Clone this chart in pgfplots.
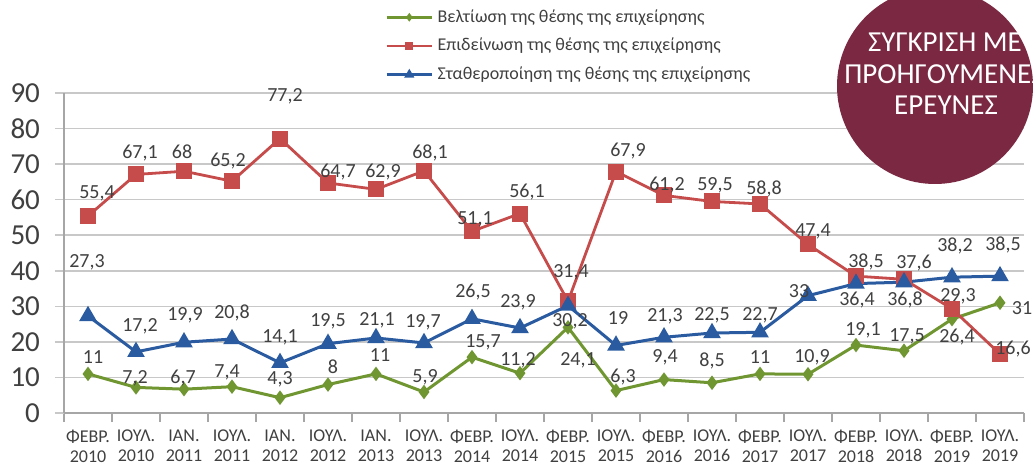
\documentclass[border=0pt]{standalone}
\usepackage{pgfplots}
\pgfplotsset{compat=1.18}
\usepackage{pgfplotstable}
\usepackage{fontspec}
\setmainfont{Carlito}
\definecolor{cgreen}{HTML}{709632}
\definecolor{cred}{HTML}{C64B4B}
\definecolor{cblue}{HTML}{2A5AA0}
\definecolor{maroon}{HTML}{7B2942}
\definecolor{txt}{HTML}{404040}
\definecolor{gridc}{HTML}{C8C8C8}

% x y dx dy  (label offsets in pt)
\pgfplotstableread{
x y dx dy
0 11 2.5 8.5
1 7.2 -0.5 4.5
2 6.7 -0.5 5.5
3 7.4 -2.5 7
4 4.3 0 9
5 8 2.5 9
6 11 2 9.5
7 5.9 0.5 7.5
8 15.7 5.5 7.5
9 11.2 -1 6.5
10 24.1 5 -16.5
11 6.3 3.5 7
12 9.4 0.5 11
13 8.5 0 11
14 11 0 8.5
15 10.9 2 8.5
16 19.1 3.5 7.5
17 17.5 1.5 7
18 26.4 2.5 -9
19 31 11 -2.5
}\tblgreen

\pgfplotstableread{
x y dx dy
0 55.4 4.5 11.5
1 67.1 2 10.5
2 68 -1 9.5
3 65.2 -2 10
4 77.2 2.5 21
5 64.7 5 5.5
6 62.9 3.5 8.5
7 68.1 3 9
8 51.1 1.5 6
9 56.1 3.5 11
10 31.4 1.5 14.5
11 67.9 6 10.5
12 61.2 1.5 5
13 59.5 1.5 8
14 58.8 2 7.5
15 47.4 2.5 6.5
16 38.5 5 7
17 37.6 5 8
18 29.3 3 6.5
19 16.6 6.5 2.5
}\tblred

\pgfplotstableread{
x y dx dy
0 27.3 -0.5 27
1 17.2 2 13
2 19.9 0.5 13.5
3 20.8 0 13
4 14.1 0 13
5 19.5 0 11
6 21.1 0.5 9
7 19.7 -0.5 10.5
8 26.5 0.5 13.5
9 23.9 -1 13
10 30.2 1 -8
11 19 1 13.5
12 21.3 0.5 10.5
13 22.5 0 9
14 22.7 0 8.5
15 33 -4.5 2.5
16 36.4 0.5 -8
17 36.8 0.5 -9
18 38.2 1.5 15.5
19 38.5 1.5 15.5
}\tblblue

\pgfplotsset{lbl/.style={
    visualization depends on={\thisrow{dx}\as\dx},
    visualization depends on={\thisrow{dy}\as\dy},
    nodes near coords,
    nodes near coords align=center,
    every node near coord/.append style={font=\fontsize{10}{10}\selectfont, text=txt, inner sep=0pt, xshift=\dx pt, yshift=\dy pt},
}}

\begin{document}
\begin{tikzpicture}
\begin{axis}[
  scale only axis,
  width=480pt, height=160pt,
  at={(32pt,26.5pt)}, anchor=south west,
  xmin=-0.5, xmax=19.5,
  ymin=0, ymax=90,
  ytick={0,10,...,90},
  xtick={0,...,19},
  xticklabels={{ΦΕΒΡ.\\2010},{ΙΟΥΛ.\\2010},{ΙΑΝ.\\2011},{ΙΟΥΛ.\\2011},{ΙΑΝ.\\2012},{ΙΟΥΛ.\\2012},{ΙΑΝ.\\2013},{ΙΟΥΛ.\\2013},{ΦΕΒΡ.\\2014},{ΙΟΥΛ.\\2014},{ΦΕΒΡ.\\2015},{ΙΟΥΛ.\\2015},{ΦΕΒΡ.\\2016},{ΙΟΥΛ.\\2016},{ΦΕΒΡ.\\2017},{ΙΟΥΛ.\\2017},{ΦΕΒΡ.\\2018},{ΙΟΥΛ.\\2018},{ΦΕΒΡ.\\2019},{ΙΟΥΛ.\\2019}},
  minor xtick={-0.5,0.5,...,19.5},
  axis lines=left,
  axis line style={draw=gray!70, line width=0.6pt, -},
  tick align=outside,
  major tick length=4.5pt,
  minor tick length=4.5pt,
  major x tick style={draw=none},
  minor x tick style={draw=gray!70, line width=0.6pt},
  major y tick style={draw=gridc, line width=0.8pt},
  ymajorgrids,
  major grid style={draw=gridc, line width=0.8pt},
  yticklabel style={font=\fontsize{14.5}{14.5}\selectfont, text=txt, xshift=-4pt},
  xticklabel style={font=\fontsize{9}{10}\selectfont, text=txt, align=center, yshift=-0.5pt},
  /pgf/number format/.cd, use comma, assume math mode=true,
  /pgfplots/.cd,
  clip=false,
  legend style={at={(0.334,1.275)}, anchor=north west, draw=none, fill=none,
    font=\fontsize{9}{10}\selectfont, text=txt, row sep=2.5pt, inner sep=0pt,
    cells={anchor=west}},
  legend cell align=left,
  legend image code/.code={
    \draw[mark repeat=2,mark phase=2, every mark/.append style={scale=0.4}] plot coordinates {(0cm,0cm) (0.4cm,0cm) (0.8cm,0cm)};
  },
]
\addplot[cgreen, line width=1.5pt, mark=diamond*, mark size=2.4pt, mark options={fill=cgreen, draw=cgreen}, lbl] table[x=x,y=y] \tblgreen;
\addlegendentry{Βελτίωση της θέσης της επιχείρησης}
\addplot[cred, line width=1.4pt, mark=square*, mark size=3.3pt, mark options={fill=cred, draw=cred}, lbl] table[x=x,y=y] \tblred;
\addlegendentry{Επιδείνωση της θέσης της επιχείρησης}
\addplot[cblue, line width=1.5pt, mark=triangle*, mark size=3.6pt, mark options={fill=cblue, draw=cblue}, lbl] table[x=x,y=y] \tblblue;
\addlegendentry{Σταθεροποίηση της θέσης της επιχείρησης}
\end{axis}
\fill[maroon] (467.5pt,190pt) circle (49pt);
\node[text=white, font=\fontsize{14.5}{14.5}\selectfont] at (472.5pt,212pt) {ΣΥΓΚΡΙΣΗ ΜΕ};
\node[text=white, font=\fontsize{14.5}{14.5}\selectfont, anchor=west, inner sep=0pt] at (422pt,196pt) {ΠΡΟΗΓΟΥΜΕΝΕΣ};
\node[text=white, font=\fontsize{14.5}{14.5}\selectfont] at (473pt,180.5pt) {ΕΡΕΥΝΕΣ};
\pgfresetboundingbox
\path (0pt,0pt) rectangle (516.5pt,233pt);
\end{tikzpicture}
\end{document}
